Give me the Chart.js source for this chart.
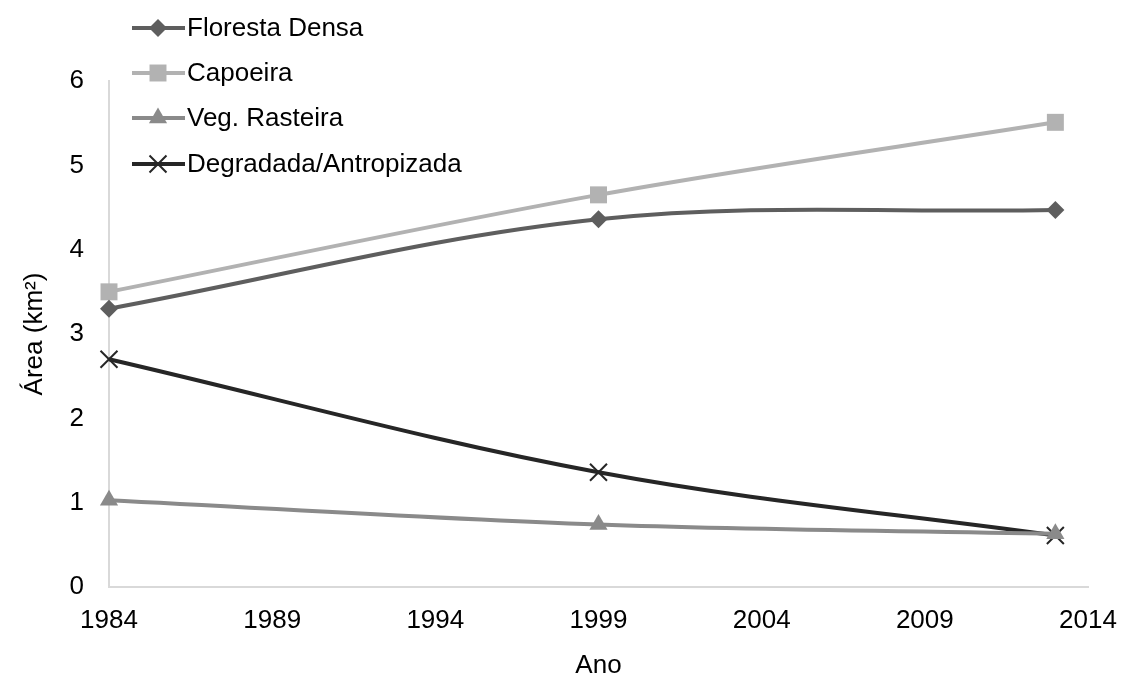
<!DOCTYPE html>
<html>
<head>
<meta charset="utf-8">
<script src="https://cdn.jsdelivr.net/npm/chart.js@4"></script>
<style>
  html, body { margin: 0; padding: 0; background: #fff; }
  #wrap { width: 1121px; height: 691px; position: relative; }
</style>
</head>
<body>
<div id="wrap"><canvas id="chart"></canvas></div>
<script>
const YEARS = [1984, 1999, 2013];
const SERIES_NAMES = ["Floresta Densa", "Capoeira", "Veg. Rasteira", "Degradada/Antropizada"];
const FLORESTA_DENSA = [3.30, 4.36, 4.47];
const CAPOEIRA = [3.50, 4.65, 5.51];
const VEG_RASTEIRA = [1.03, 0.74, 0.63];
const DEGRADADA = [2.70, 1.36, 0.61];
const X_TICKS = [1984, 1989, 1994, 1999, 2004, 2009, 2014];
const Y_TICKS = [0, 1, 2, 3, 4, 5, 6];

const FONT = "'Liberation Sans', Arial, sans-serif";
const FONT_SIZE = 26;

function toPoints(values) {
    return values.map((v, i) => ({ x: YEARS[i], y: v }));
}

const styles = [
    { color: "#5e5e5e", pointStyle: "rectRot", radius: 9, borderWidth: 0 },
    { color: "#b2b2b2", pointStyle: "rect", radius: 12, borderWidth: 0 },
    { color: "#8a8a8a", pointStyle: "triangle", radius: 10.5, borderWidth: 0 },
    { color: "#262626", pointStyle: "crossRot", radius: 12, borderWidth: 2 },
];
const values = [FLORESTA_DENSA, CAPOEIRA, VEG_RASTEIRA, DEGRADADA];

const datasets = SERIES_NAMES.map((name, i) => ({
    label: name,
    data: toPoints(values[i]),
    borderColor: styles[i].color,
    backgroundColor: styles[i].color,
    borderWidth: 4,
    tension: 0.35,
    pointStyle: styles[i].pointStyle,
    pointRadius: styles[i].radius,
    pointBorderWidth: styles[i].borderWidth,
    pointBorderColor: styles[i].color,
    pointBackgroundColor: styles[i].color,
    clip: false,
}));

// legend drawn by hand, it sits partly over the plot like in the original
const sideLegend = {
    id: "sideLegend",
    afterDraw(chart) {
        const ctx = chart.ctx;
        const rows = [28, 73, 118, 164];
        ctx.save();
        chart.data.datasets.forEach((ds, i) => {
            const y = rows[i];
            ctx.strokeStyle = ds.borderColor;
            ctx.lineWidth = 4;
            ctx.beginPath();
            ctx.moveTo(132, y);
            ctx.lineTo(185, y);
            ctx.stroke();
            ctx.fillStyle = ds.pointBackgroundColor;
            ctx.strokeStyle = ds.pointBorderColor;
            ctx.lineWidth = ds.pointBorderWidth;
            Chart.helpers.drawPoint(ctx, {
                pointStyle: ds.pointStyle,
                radius: ds.pointRadius,
                rotation: 0,
                borderWidth: ds.pointBorderWidth,
            }, 158, y);
            ctx.fillStyle = "#000";
            ctx.font = FONT_SIZE + "px " + FONT;
            ctx.textAlign = "left";
            ctx.textBaseline = "middle";
            ctx.fillText(ds.label, 187, y + 1);
        });
        ctx.restore();
    },
};

new Chart(document.getElementById("chart"), {
    type: "line",
    data: { datasets },
    plugins: [sideLegend],
    options: {
        responsive: true,
        maintainAspectRatio: false,
        animation: false,
        layout: { padding: { top: 81, right: 0, left: 0, bottom: 0 } },
        scales: {
            x: {
                type: "linear",
                min: 1984,
                max: 2014,
                afterBuildTicks: (scale) => {
                    scale.ticks = X_TICKS.map((v) => ({ value: v }));
                },
                afterFit: (scale) => {
                    scale.height = 104;
                    scale.paddingLeft = 0;
                    scale.paddingRight = 33;
                },
                ticks: {
                    callback: (v) => String(v),
                    color: "#000",
                    padding: 18,
                    maxRotation: 0,
                    font: { family: FONT, size: FONT_SIZE },
                },
                grid: { display: false, drawTicks: false },
                border: { display: true, color: "#d9d9d9", width: 2 },
                title: {
                    display: true,
                    text: "Ano",
                    color: "#000",
                    font: { family: FONT, size: FONT_SIZE },
                    padding: { top: 0, bottom: 10 },
                },
            },
            y: {
                min: 0,
                max: 6,
                afterBuildTicks: (scale) => {
                    scale.ticks = Y_TICKS.map((v) => ({ value: v }));
                },
                afterFit: (scale) => { scale.width = 109; },
                ticks: {
                    color: "#000",
                    padding: 25,
                    font: { family: FONT, size: FONT_SIZE },
                },
                grid: { display: false, drawTicks: false },
                border: { display: true, color: "#d9d9d9", width: 2 },
                title: {
                    display: true,
                    text: "Área (km²)",
                    color: "#000",
                    font: { family: FONT, size: FONT_SIZE },
                    padding: { top: 19, bottom: 0 },
                },
            },
        },
        plugins: {
            legend: { display: false },
            tooltip: { enabled: false },
        },
    },
});
</script>
</body>
</html>
